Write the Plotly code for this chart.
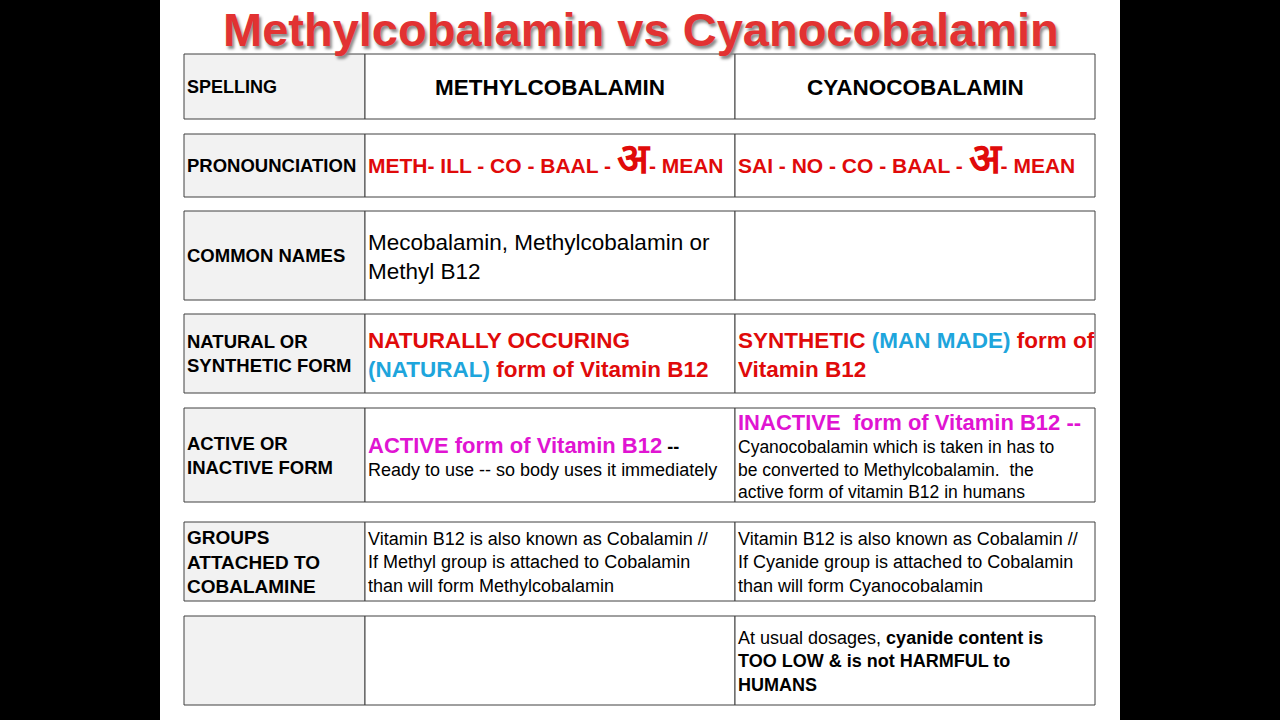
import plotly.graph_objects as go

RED = "#e00a0a"
BLUE = "#1ea5dc"
MAG = "#e014d2"

def red(s):
    return f"<span style='color:{RED}'>{s}</span>"

def blue(s):
    return f"<span style='color:{BLUE}'>{s}</span>"

def mag(s):
    return f"<span style='color:{MAG}'>{s}</span>"

def big(s, size):
    return f"<span style='font-size:{size}px'>{s}</span>"

title = "Methylcobalamin vs Cyanocobalamin"

row_labels = [
    "SPELLING",
    "PRONOUNCIATION",
    "COMMON NAMES",
    "NATURAL OR<br>SYNTHETIC FORM",
    "ACTIVE OR<br>INACTIVE FORM",
    "GROUPS<br>ATTACHED TO<br>COBALAMINE",
    "",
]

methyl_cells = [
    "<b>METHYLCOBALAMIN</b>",
    "<b>" + red("METH- ILL - CO - BAAL - " + big("अ", 42) + "- MEAN") + "</b>",
    "Mecobalamin, Methylcobalamin or<br>Methyl B12",
    "<b>" + red("NATURALLY OCCURING") + "<br>" + blue("(NATURAL)") + red(" form of Vitamin B12") + "</b>",
    "<b>" + big(mag("ACTIVE form of Vitamin B12"), 22) + " --</b><br>" + "Ready to use -- so body uses it immediately",
    "Vitamin B12 is also known as Cobalamin //<br>If Methyl group is attached to Cobalamin<br>than will form Methylcobalamin",
    "",
]

cyano_cells = [
    "<b>CYANOCOBALAMIN</b>",
    "<b>" + red("SAI - NO - CO - BAAL - " + big("अ", 42) + "- MEAN") + "</b>",
    "",
    "<b>" + red("SYNTHETIC ") + blue("(MAN MADE)") + red(" form of") + "<br>" + red("Vitamin B12") + "</b>",
    "<b>" + big(mag("INACTIVE  form of Vitamin B12 --"), 22) + "</b><br>Cyanocobalamin which is taken in has to<br>be converted to Methylcobalamin.  the<br>active form of vitamin B12 in humans",
    "Vitamin B12 is also known as Cobalamin //<br>If Cyanide group is attached to Cobalamin<br>than will form Cyanocobalamin",
    "At usual dosages, <b>cyanide content is</b><br><b>TOO LOW &amp; is not HARMFUL to</b><br><b>HUMANS</b>",
]

# layout (pixel space of the slide)
row_top = [54, 134, 211, 314, 408, 522, 616]
row_bot = [119, 197, 300, 393, 502, 601, 705]
col_x = [184, 365, 735, 1095]
label_size = [18, 18.5, 18.5, 18.5, 18.5, 19, 18]
methyl_size = [22.5, 21, 22.5, 22.5, 18, 18, 18]
cyano_size = [22.5, 21, 22.5, 22.5, 17.5, 18, 18]
text_shift = [0, 8, 0, 0, 0, 0, 0]

FONT = "Liberation Sans, Arial, sans-serif"

fig = go.Figure()
fig.add_trace(go.Scatter(x=[0, 1280], y=[0, 720], mode="markers",
                         marker=dict(opacity=0), hoverinfo="skip", showlegend=False))

shapes = [dict(type="rect", x0=160, x1=1120, y0=0, y1=720, fillcolor="white",
               line=dict(width=0), layer="below")]
annotations = []

for i in range(len(row_labels)):
    t, b = row_top[i], row_bot[i]
    ym = (t + b) / 2
    for j in range(3):
        shapes.append(dict(type="rect", x0=col_x[j], x1=col_x[j + 1], y0=t, y1=b,
                           fillcolor="#f2f2f2" if j == 0 else "white",
                           line=dict(color="#404040", width=1), layer="below"))
    annotations.append(dict(x=col_x[0] + 0.5, y=ym, text="<b>" + row_labels[i] + "</b>",
                            xanchor="left", yanchor="middle", align="left", showarrow=False,
                            font=dict(family=FONT, size=label_size[i], color="black")))
    for j, (cells, sizes) in enumerate([(methyl_cells, methyl_size), (cyano_cells, cyano_size)]):
        if not cells[i]:
            continue
        if i == 0:
            x, xa, al = (col_x[j + 1] + col_x[j + 2]) / 2, "center", "center"
        else:
            x, xa, al = col_x[j + 1] + 0.5, "left", "left"
        annotations.append(dict(x=x, y=ym + 1, text=cells[i], xanchor=xa, yanchor="middle",
                                align=al, showarrow=False, yshift=text_shift[i],
                                font=dict(family=FONT, size=sizes[i], color="black")))

annotations.append(dict(x=641, y=29, text="<b>" + title + "</b>", showarrow=False,
                        xanchor="center", yanchor="middle",
                        font=dict(family=FONT, size=47, color="#e23232",
                                  shadow="2px 3px 3px #8a8a8a")))

fig.update_layout(
    width=1280, height=720,
    margin=dict(l=0, r=0, t=0, b=0),
    paper_bgcolor="black", plot_bgcolor="black",
    xaxis=dict(range=[0, 1280], visible=False, fixedrange=True),
    yaxis=dict(range=[720, 0], visible=False, fixedrange=True),
    shapes=shapes, annotations=annotations,
)

fig.write_html("out.html", config={"displayModeBar": False},
               post_script="document.body.style.margin='0';document.body.style.background='black';")
